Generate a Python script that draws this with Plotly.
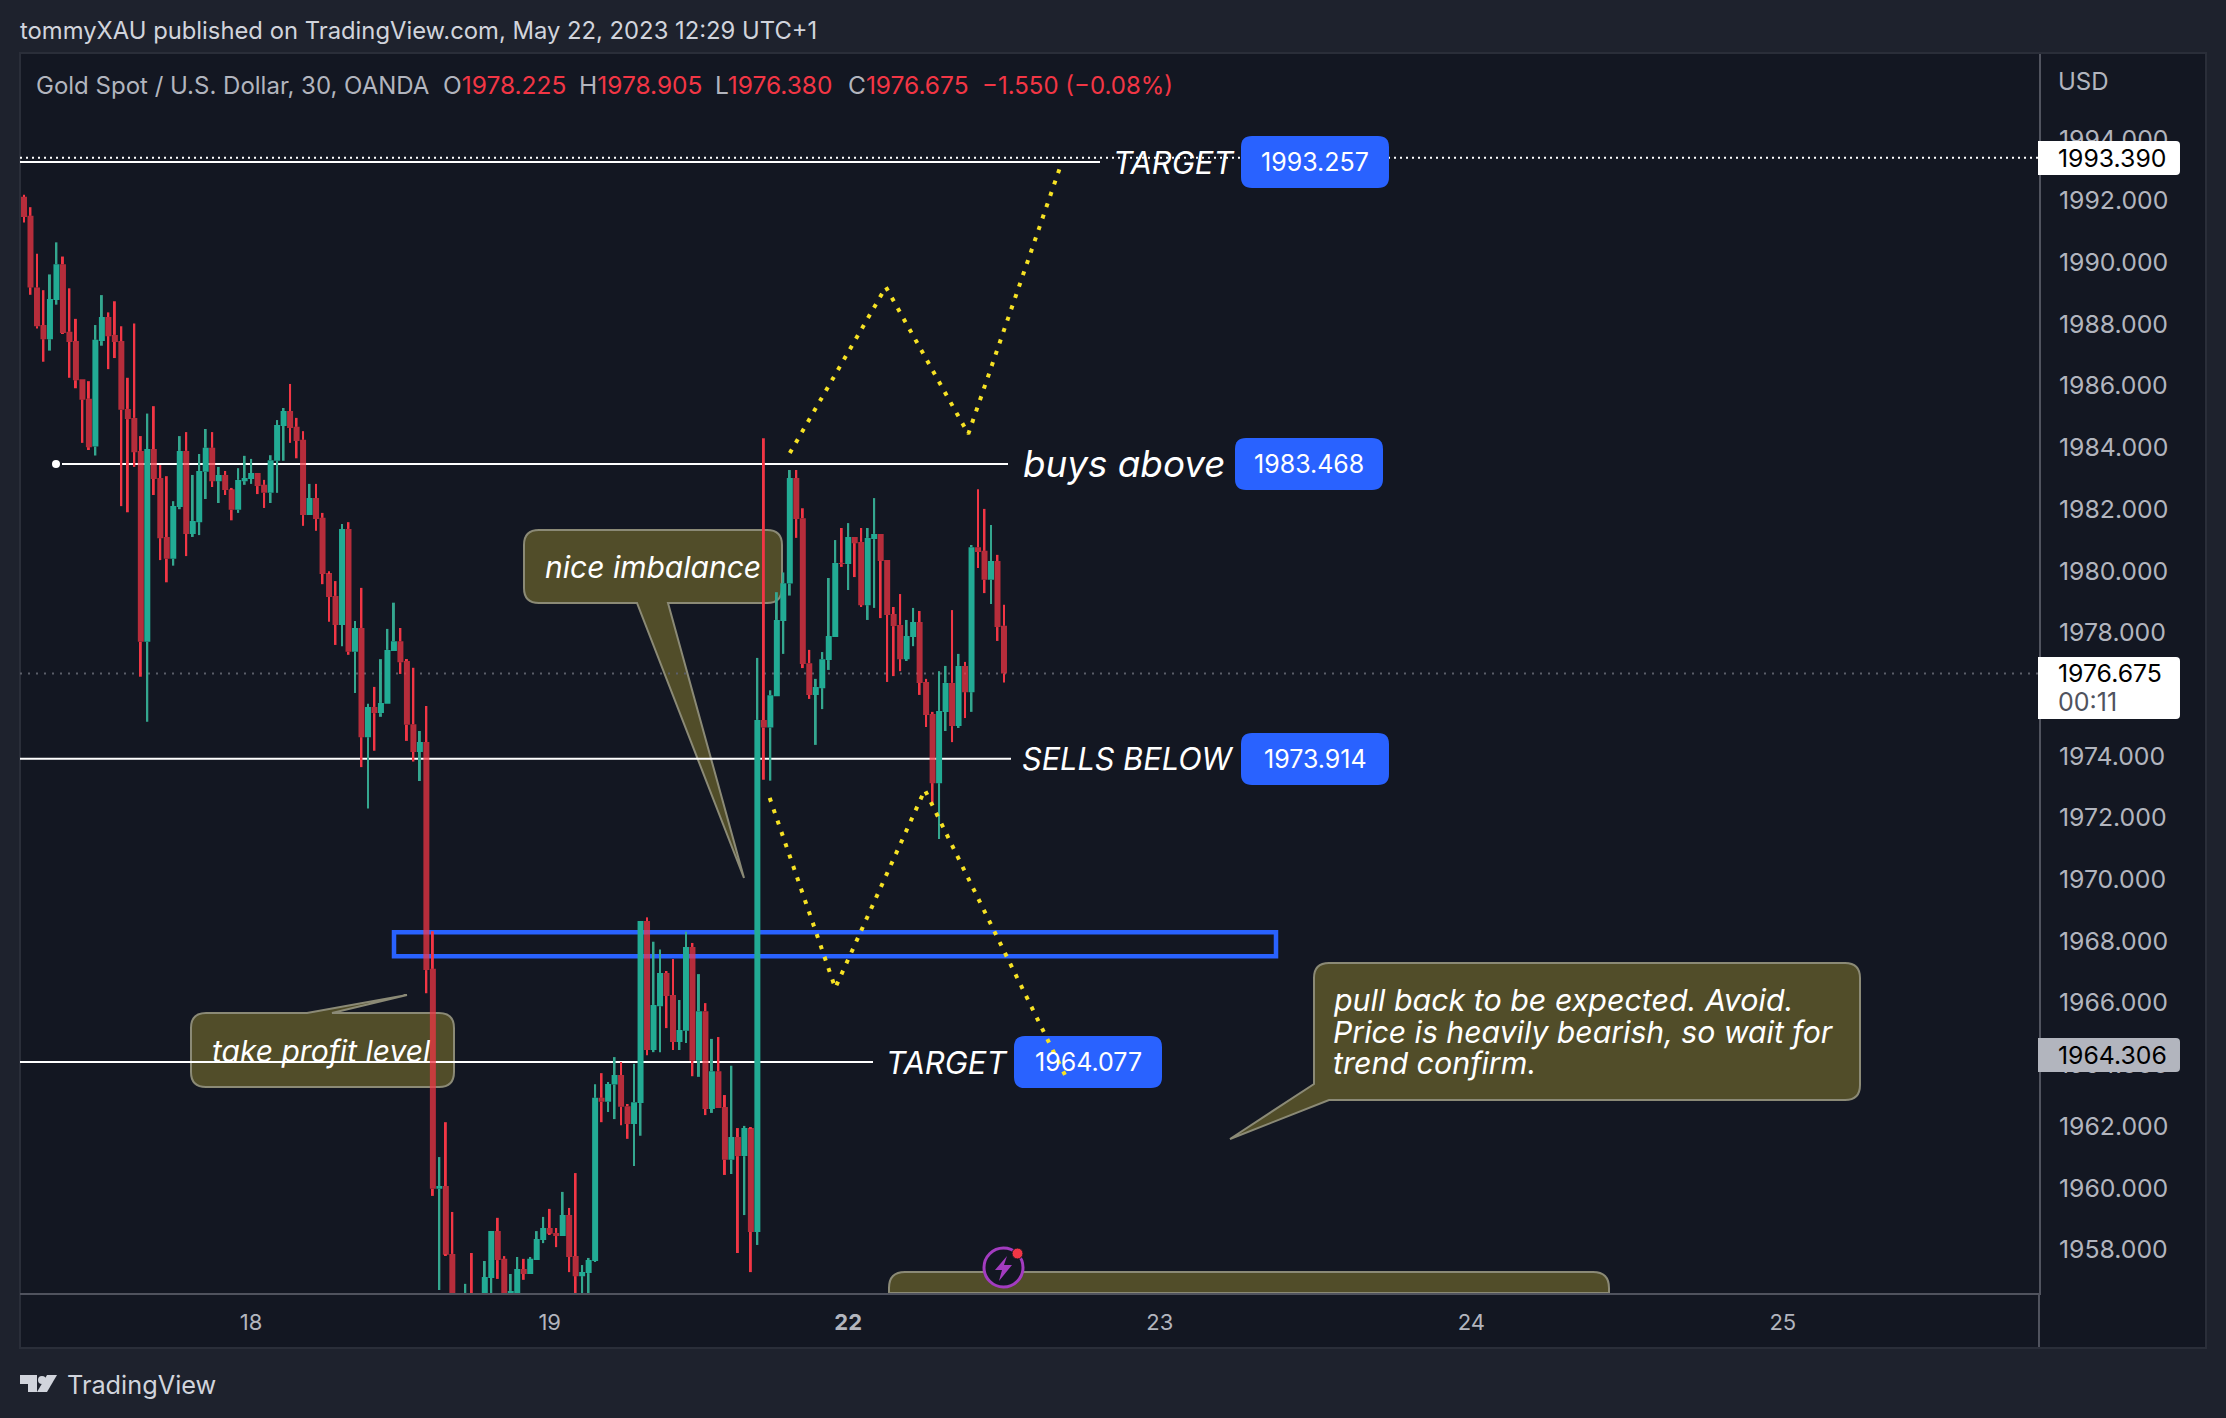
import plotly.graph_objects as go

opens = [1992.13,1991.51,1989.19,1987.97,1987.51,1988.78,1989.94,1987.75,1987.45,1986.21,1985.58,1984.03,1987.45,1988.23,1987.65,1987.45,1985.25,1984.96,1983.89,1977.70,
1983.95,1983.01,1981.10,1980.39,1982.07,1983.89,1981.20,1981.58,1983.21,1983.99,1982.91,1983.11,1982.65,1981.98,1982.91,1982.98,1983.17,1982.79,1982.53,1983.57,
1984.70,1985.18,1984.67,1984.25,1981.81,1982.36,1981.72,1979.93,1979.19,1978.25,1981.36,1977.38,1978.15,1974.61,1975.59,1975.39,1975.69,1977.40,1977.72,1977.08,
1975.03,1974.13,1974.45,1967.10,1959.97,1960.06,1957.86,1955.90,1955.30,1956.20,1955.50,1955.70,1957.08,1958.60,1957.70,1956.40,1956.30,1957.37,1957.21,1957.66,
1958.31,1958.70,1958.54,1958.44,1959.12,1957.79,1957.14,1957.24,1957.63,1962.92,1962.79,1963.35,1963.66,1962.65,1962.07,1962.75,1968.65,1964.47,1965.89,1966.97,
1966.25,1964.73,1965.09,1967.81,1964.12,1965.73,1962.56,1963.78,1962.62,1960.91,1961.65,1961.03,1961.94,1958.57,1975.17,1974.92,1975.94,1978.38,1979.59,1983.01,
1981.71,1977.01,1975.98,1976.20,1977.11,1977.86,1980.26,1980.22,1981.10,1980.94,1978.89,1981.03,1981.20,1980.35,1978.60,1978.25,1977.14,1977.86,1978.34,1976.40,
1975.36,1973.12,1975.43,1976.37,1974.97,1976.92,1976.07,1980.77,1980.65,1979.71,1980.32,1978.225]
highs = [1992.19,1991.79,1990.28,1989.10,1989.61,1990.65,1990.19,1989.16,1988.17,1986.21,1986.15,1987.97,1988.94,1988.38,1988.74,1987.93,1986.26,1988.02,1984.37,1985.10,
1985.34,1983.43,1983.07,1982.26,1984.37,1984.50,1983.11,1983.79,1984.60,1984.50,1983.37,1983.24,1982.69,1983.33,1983.73,1983.63,1983.17,1982.95,1983.75,1984.89,
1985.28,1986.06,1984.96,1984.53,1982.82,1982.82,1981.88,1979.99,1979.67,1981.52,1981.58,1978.38,1979.45,1975.69,1976.24,1977.14,1978.12,1978.97,1978.15,1977.12,
1976.86,1974.81,1975.62,1968.32,1961.00,1962.13,1959.22,1956.30,1956.89,1957.89,1956.30,1957.63,1958.60,1959.03,1957.79,1957.21,1957.76,1957.70,1957.73,1958.60,
1959.06,1959.32,1958.70,1959.87,1959.35,1960.48,1957.50,1957.73,1963.36,1963.72,1963.41,1964.24,1964.08,1962.72,1964.02,1968.65,1968.77,1967.98,1967.73,1967.03,
1967.42,1966.09,1968.30,1967.94,1966.93,1965.99,1964.83,1964.89,1963.01,1963.96,1961.94,1962.01,1961.97,1977.18,1984.30,1976.13,1979.31,1979.95,1983.27,1983.27,
1982.03,1977.44,1976.50,1977.37,1979.77,1981.00,1981.39,1981.55,1981.10,1981.39,1981.39,1982.36,1981.20,1980.35,1978.83,1979.25,1978.41,1978.80,1978.70,1976.50,
1975.43,1976.75,1976.92,1978.73,1977.31,1977.05,1980.84,1982.65,1982.01,1981.49,1980.52,1978.905]
lows = [1991.29,1988.95,1987.86,1986.78,1987.14,1988.63,1987.68,1986.26,1985.92,1984.15,1983.95,1983.74,1987.30,1986.54,1986.90,1982.10,1981.90,1983.37,1976.57,1975.11,
1982.46,1980.35,1979.63,1980.17,1982.00,1980.48,1981.10,1981.16,1982.33,1982.72,1982.20,1982.46,1981.64,1981.88,1982.79,1982.82,1982.49,1982.04,1982.20,1982.53,
1983.57,1984.15,1983.65,1981.46,1981.81,1981.30,1979.57,1978.35,1977.60,1977.56,1977.28,1976.04,1973.64,1972.30,1974.17,1975.27,1975.69,1977.40,1976.66,1974.49,
1973.82,1973.19,1966.31,1959.74,1956.69,1957.80,1955.40,1955.10,1955.00,1955.00,1955.20,1955.40,1956.20,1957.05,1955.80,1956.10,1956.00,1957.02,1957.21,1957.66,
1958.21,1958.48,1958.08,1958.44,1957.27,1956.20,1956.20,1956.10,1957.60,1962.13,1962.46,1962.23,1962.03,1961.59,1960.71,1961.69,1964.30,1964.40,1964.40,1965.18,
1964.47,1964.47,1964.70,1963.62,1963.60,1962.36,1962.43,1962.59,1960.42,1960.45,1957.89,1959.12,1957.27,1958.15,1973.23,1973.20,1975.94,1977.31,1979.20,1981.07,
1976.85,1975.85,1974.36,1975.52,1976.79,1977.86,1980.13,1979.38,1979.80,1978.86,1978.41,1978.80,1978.47,1976.40,1976.59,1976.75,1977.08,1977.56,1975.98,1974.94,
1972.41,1971.31,1974.81,1974.45,1974.91,1975.23,1975.43,1980.09,1979.28,1978.93,1977.73,1976.38]
closes = [1991.47,1989.19,1987.93,1987.51,1988.81,1989.94,1987.71,1987.42,1986.18,1985.55,1984.01,1987.49,1988.23,1987.61,1987.42,1985.22,1984.92,1983.85,1977.70,1983.95,
1982.98,1981.06,1980.39,1982.10,1983.89,1981.20,1981.62,1983.24,1983.99,1982.91,1983.11,1982.62,1981.98,1982.95,1983.01,1983.17,1982.75,1982.53,1983.59,1984.73,
1985.18,1984.63,1984.21,1981.81,1982.36,1981.68,1979.90,1979.15,1978.25,1981.36,1977.38,1978.15,1974.61,1975.59,1975.39,1975.72,1977.44,1977.72,1977.04,1975.01,
1974.13,1974.45,1967.06,1959.97,1960.06,1957.83,1955.90,1955.50,1956.10,1955.40,1955.70,1957.11,1958.60,1957.66,1956.10,1956.66,1957.37,1957.21,1957.70,1958.34,
1958.70,1958.51,1958.44,1959.12,1957.76,1957.14,1957.27,1957.66,1962.92,1962.79,1963.37,1963.66,1962.63,1962.07,1962.78,1968.65,1964.47,1965.93,1966.97,1966.22,
1964.73,1965.12,1967.81,1964.12,1965.73,1962.56,1963.78,1962.59,1960.91,1961.65,1961.03,1961.94,1958.57,1975.17,1974.92,1975.97,1978.41,1979.60,1983.01,1981.68,
1976.98,1975.98,1976.24,1977.14,1977.89,1980.26,1980.22,1981.10,1980.90,1978.89,1981.07,1981.20,1980.32,1978.57,1978.21,1977.14,1977.89,1978.34,1976.37,1975.33,
1973.12,1975.46,1976.37,1974.97,1976.92,1976.07,1980.77,1980.61,1979.71,1980.32,1978.18,1976.675]
bar_index = list(range(len(closes)))

day_ticks = [35, 81, 127, 175, 223, 271]
day_labels = ["18", "19", "<b>22</b>", "23", "24", "25"]
price_ticks = list(range(1958, 1996, 2))

upper_path_x = [118.0, 132.8, 145.5, 159.6]
upper_path_y = [1983.82, 1989.20, 1984.44, 1993.06]
lower_path_x = [114.9, 125.0, 138.8, 160.7]
lower_path_y = [1972.64, 1966.48, 1972.90, 1963.53]

W, H = 2226, 1418
PL, PR, PT, PB = 20, 2039, 54, 1293
PANEL_R, PANEL_B = 2205, 1347
BG, PANEL, BORDER = "#1e222d", "#131722", "#2a2e39"
AXIS, TXT, TXT2 = "#50535e", "#b2b5be", "#d1d4dc"
RED_WICK, RED_BODY, TEAL_WICK, TEAL_BODY = "#f23645", "rgba(242,54,69,0.73)", "#34a78f", "#22ab94"
BLUE, BALLOON, BALLOON_EDGE, YELLOW = "#2962ff", "#514d29", "#8b8a76", "#f7e224"
FONT = "Inter"

def fx(px): return px / W
def fy(px): return 1 - px / H
def p(x, y): return f"{fx(x):.6f},{fy(y):.6f}"

def poly(points):
    return "M" + " L".join(p(x, y) for x, y in points) + " Z"

def rounded(x0, y0, x1, y1, r, r_left=None):
    rl = r if r_left is None else r_left
    return (f"M{p(x0+rl,y0)} L{p(x1-r,y0)} Q{p(x1,y0)} {p(x1,y0+r)} L{p(x1,y1-r)} Q{p(x1,y1)} {p(x1-r,y1)} "
            f"L{p(x0+rl,y1)} Q{p(x0,y1)} {p(x0,y1-rl)} L{p(x0,y0+rl)} Q{p(x0,y0)} {p(x0+rl,y0)} Z")

def balloon(x0, y0, x1, y1, r, top=(), bottom=()):
    lt = lambda pts: " ".join("L" + p(*q) for q in pts)
    return (f"M{p(x0+r,y0)} {lt(top)} L{p(x1-r,y0)} Q{p(x1,y0)} {p(x1,y0+r)} L{p(x1,y1-r)} Q{p(x1,y1)} {p(x1-r,y1)} "
            f"{lt(bottom)} L{p(x0+r,y1)} Q{p(x0,y1)} {p(x0,y1-r)} L{p(x0,y0+r)} Q{p(x0,y0)} {p(x0+r,y0)} Z")

def corner_balloon(x0, y0, x1, y1, r, tail):
    lt = " ".join("L" + p(*q) for q in tail)
    return (f"M{p(x0+r,y0)} L{p(x1-r,y0)} Q{p(x1,y0)} {p(x1,y0+r)} L{p(x1,y1-r)} Q{p(x1,y1)} {p(x1-r,y1)} "
            f"{lt} L{p(x0,y0+r)} Q{p(x0,y0)} {p(x0+r,y0)} Z")

shapes, annos = [], []

def path(d, fill=None, line=None, lw=0, layer="below"):
    shapes.append(dict(type="path", path=d, xref="paper", yref="paper", fillcolor=fill or "rgba(0,0,0,0)",
                       line=dict(color=line or "rgba(0,0,0,0)", width=lw), layer=layer))

def hline(x0, x1, price, color="#ffffff", width=2, dash="solid"):
    shapes.append(dict(type="line", xref="paper", yref="y", x0=fx(x0), x1=fx(x1), y0=price, y1=price,
                       line=dict(color=color, width=width, dash=dash), layer="below"))

def text(x, y, s, size, color, anchor="left"):
    annos.append(dict(x=fx(x), y=fy(y), xref="paper", yref="paper", text=s, showarrow=False, xanchor=anchor,
                      yanchor="middle", align="left", font=dict(family=FONT, size=size, color=color),
                      borderpad=0, borderwidth=0))

# side panels
path(poly([(PR, PT), (PANEL_R, PT), (PANEL_R, PANEL_B), (PL, PANEL_B), (PL, PB), (PR, PB)]), fill=PANEL)
path(poly([(PL, PT - 1), (PANEL_R + 1, PT - 1), (PANEL_R + 1, PANEL_B + 1), (PL, PANEL_B + 1)]), line=BORDER, lw=2)
path(poly([(PR - 1, PB), (PR + 1, PB), (PR + 1, PANEL_B), (PR - 1, PANEL_B)]), fill=AXIS)

# balloons
path(balloon(524, 530, 782, 603, 15, bottom=[(668, 603), (744, 878), (637, 603)]), BALLOON, BALLOON_EDGE, 2)
path(balloon(191, 1013, 454, 1087, 15, top=[(307, 1013), (407, 995), (332, 1013)]), BALLOON, BALLOON_EDGE, 2)
path(corner_balloon(1314, 963, 1860, 1100, 15, [(1329, 1100), (1230, 1139), (1314, 1084)]), BALLOON, BALLOON_EDGE, 2)
path(f"M{p(889,PB)} L{p(889,1288)} Q{p(889,1272)} {p(905,1272)} L{p(1593,1272)} Q{p(1609,1272)} {p(1609,1288)} L{p(1609,PB)} Z",
     BALLOON, BALLOON_EDGE, 2)

# level lines and zone
hline(PL, PR, 1993.39, width=2, dash="2px,4px")
hline(PL, 1100, 1993.257)
hline(62, 1008, 1983.468)
hline(PL, 1011, 1973.914)
hline(PL, 873, 1964.077)
hline(PL, PR, 1976.675, color="#5b5e69", width=2, dash="2px,6px")
shapes.append(dict(type="rect", xref="paper", yref="y", x0=fx(394), x1=fx(1276), y0=1967.51, y1=1968.29,
                   line=dict(color=BLUE, width=4.5), fillcolor="rgba(0,0,0,0)", layer="below"))
shapes.append(dict(type="circle", xref="paper", yref="paper", x0=fx(52), x1=fx(60), y0=fy(468), y1=fy(460),
                   fillcolor="#ffffff", line=dict(width=0), layer="below"))

# balloon caption that the candles pass over
shapes.append(dict(type="rect", xref="paper", yref="paper", x0=fx(209), x1=fx(454), y0=fy(1087), y1=fy(1013),
                   fillcolor="rgba(0,0,0,0)", line=dict(width=0), layer="below",
                   label=dict(text="<i>take profit level</i>", textposition="middle left", padding=0,
                              font=dict(family=FONT, size=30, color="#ffffff"))))

# blue price pills
for x0, yc in [(1241, 162), (1235, 464), (1241, 759), (1014, 1062)]:
    path(rounded(x0, yc - 26, x0 + 148, yc + 26, 11), BLUE)

# price-scale flags
path(rounded(2038, 141, 2180, 175, 4, 0), "#ffffff", layer="above")
path(rounded(2038, 657, 2180, 719, 4, 0), "#ffffff", layer="above")
path(rounded(2038, 1038, 2180, 1072, 4, 0), "#b2b5be", layer="above")

# lightning icon
shapes.append(dict(type="circle", xref="paper", yref="paper", x0=fx(984), x1=fx(1023), y0=fy(1287), y1=fy(1248),
                   fillcolor="#131722", line=dict(color="#a33cc0", width=3), layer="above"))
path(poly([(1007, 1256), (995, 1270), (1002, 1270), (999, 1281), (1012, 1265), (1004, 1265)]), "#a33cc0", layer="above")
shapes.append(dict(type="circle", xref="paper", yref="paper", x0=fx(1012), x1=fx(1023), y0=fy(1259), y1=fy(1248),
                   fillcolor="#f23645", line=dict(color="#131722", width=1), layer="above"))

# TradingView mark
path(poly([(20, 1375), (37, 1375), (37, 1392), (28, 1392), (28, 1384), (20, 1384)]), TXT2)
path(poly([(47, 1375), (57, 1375), (47, 1392), (37, 1392)]), TXT2)
shapes.append(dict(type="circle", xref="paper", yref="paper", x0=fx(38), x1=fx(46), y0=fy(1384), y1=fy(1376),
                   fillcolor=TXT2, line=dict(width=0), layer="below"))

# header & legend
text(20, 31, "tommyXAU published on TradingView.com, May 22, 2023 12:29 UTC+1", 23.8, TXT2)
text(36, 85, "Gold Spot / U.S. Dollar, 30, OANDA", 24, TXT)
for x, lab, val in [(443, "O", "1978.225"), (579, "H", "1978.905"), (715, "L", "1976.380"), (848, "C", "1976.675")]:
    text(x, 85, f'{lab}<span style="color:{RED_WICK}">{val}</span>', 24.5, TXT)
text(982, 85, "−1.550 (−0.08%)", 24, RED_WICK)
text(2058, 81, "USD", 24, TXT)
text(67, 1384, "TradingView", 25.3, TXT2)

# drawing labels
text(1113, 162, "<i>TARGET</i>", 31, "#ffffff")
text(1023, 464, "<i>buys above</i>", 36.8, "#ffffff")
text(1022, 759, "<i>SELLS BELOW</i>", 30.7, "#ffffff")
text(886, 1062, "<i>TARGET</i>", 31, "#ffffff")
for x, yc, s in [(1315, 162, "1993.257"), (1309, 464, "1983.468"), (1315, 759, "1973.914"), (1088, 1062, "1964.077")]:
    text(x, yc, s, 25, "#ffffff", "center")
text(545, 567, "<i>nice imbalance</i>", 30, "#ffffff")
text(1333, 1000, "<i>pull back to be expected. Avoid.</i>", 30.4, "#ffffff")
text(1333, 1032, "<i>Price is heavily bearish, so wait for</i>", 30.2, "#ffffff")
text(1333, 1063, "<i>trend confirm.</i>", 30.4, "#ffffff")

# price-scale flag texts
text(2058, 158, "1993.390", 24.8, "#000000")
text(2058, 673, "1976.675", 24.8, "#000000")
text(2058, 702, "00:11", 25, "#50535e")
text(2058, 1055, "1964.306", 24.8, "#000000")

body_top = [max(o, c) for o, c in zip(opens, closes)]
body_bot = [min(o, c) for o, c in zip(opens, closes)]
wick_colors = [TEAL_WICK if c >= o else RED_WICK for o, c in zip(opens, closes)]

fig = go.Figure()
fig.add_trace(go.Bar(x=bar_index, base=body_top, y=[h - t for h, t in zip(highs, body_top)], width=0.3,
                     marker=dict(color=wick_colors, line=dict(width=0)), name="upper wick"))
fig.add_trace(go.Bar(x=bar_index, base=lows, y=[b - l for b, l in zip(body_bot, lows)], width=0.3,
                     marker=dict(color=wick_colors, line=dict(width=0)), name="lower wick"))
fig.add_trace(go.Candlestick(x=bar_index, open=opens, high=body_top, low=body_bot, close=closes, name="XAUUSD",
                             increasing=dict(fillcolor=TEAL_BODY, line=dict(color=TEAL_BODY, width=0)),
                             decreasing=dict(fillcolor=RED_BODY, line=dict(color=RED_BODY, width=0))))
fig.add_trace(go.Scatter(x=upper_path_x, y=upper_path_y, mode="lines", name="bull path",
                         line=dict(color=YELLOW, width=4, dash="4px,8px")))
fig.add_trace(go.Scatter(x=lower_path_x, y=lower_path_y, mode="lines", name="bear path",
                         line=dict(color=YELLOW, width=4, dash="4px,8px")))

fig.update_layout(
    width=W, height=H, margin=dict(l=0, r=0, t=0, b=0), autosize=False,
    paper_bgcolor=BG, plot_bgcolor=PANEL, showlegend=False, barmode="overlay",
    boxmode="overlay", boxgap=0.08, boxgroupgap=0,
    shapes=shapes, annotations=annos, font=dict(family=FONT),
    xaxis=dict(domain=[fx(PL), fx(PR)], range=[(PL - 24) / 6.49, (PR - 24) / 6.49], rangeslider=dict(visible=False),
               tickmode="array", tickvals=day_ticks, ticktext=day_labels, showgrid=False, zeroline=False,
               showline=True, linecolor=AXIS, linewidth=2, ticks="outside", ticklen=9, tickcolor="rgba(0,0,0,0)",
               tickfont=dict(family=FONT, size=22, color=TXT)),
    yaxis=dict(domain=[fy(PB), fy(PT)], range=[1992 - (PB - 200.7) / 30.85, 1992 + (200.7 - PT) / 30.85], side="right",
               tickmode="array", tickvals=price_ticks, ticktext=[f"{v}.000" for v in price_ticks], showgrid=False,
               zeroline=False, showline=True, linecolor=AXIS, linewidth=2, ticks="outside", ticklen=13,
               tickcolor="rgba(0,0,0,0)", tickfont=dict(family=FONT, size=24.8, color=TXT)),
)
fig.write_html("out.html", config={"displayModeBar": False},
               post_script="document.body.style.margin='0';document.body.style.background='#1e222d';")
